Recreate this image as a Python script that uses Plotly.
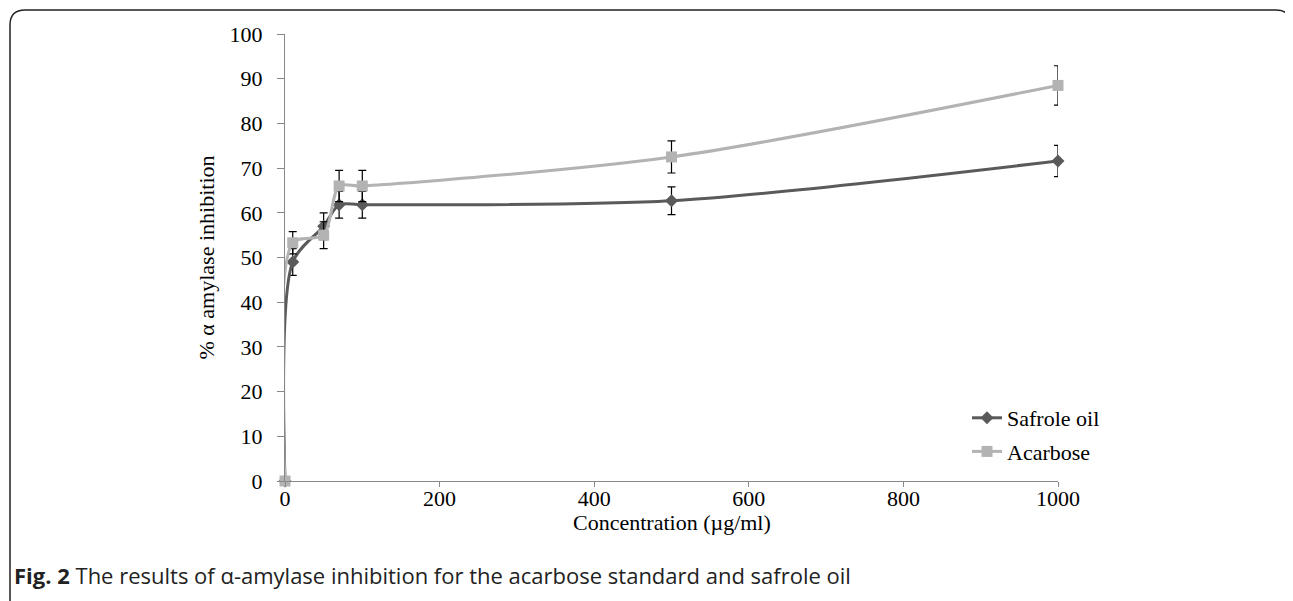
import plotly.graph_objects as go

# ---- data ----
concentration = [0, 10, 50, 70, 100, 500, 1000]
safrole = [0, 49.0, 57.0, 61.8, 61.8, 62.7, 71.6]
safrole_err = [0, 3.0, 3.0, 3.0, 3.0, 3.1, 3.5]
acarbose = [0, 53.3, 55.0, 66.0, 66.0, 72.5, 88.5]
acarbose_err = [0, 2.5, 3.0, 3.5, 3.5, 3.6, 4.4]
x_ticks = [0, 200, 400, 600, 800, 1000]
y_ticks = [0, 10, 20, 30, 40, 50, 60, 70, 80, 90, 100]

OFF = 8  # page body margin
W, H = 1293 - OFF, 601 - OFF
ML, MT = 285 - OFF, 34 - OFF
MR = W - (1058 - OFF)
MB = H - (481 - OFF)
PW, PH = W - ML - MR, H - MT - MB

def px(sx):
    return (sx - OFF - ML) / PW

def py(sy):
    return (H - MB - (sy - OFF)) / PH

serif = "Liberation Serif, Times New Roman, serif"
FS = 22

fig = go.Figure()
fig.add_trace(go.Scatter(
    x=concentration, y=safrole, name="Safrole oil", mode="lines+markers",
    legendgroup="s",
    line=dict(color="#5a5a5a", width=3, shape="spline", smoothing=0.8),
    marker=dict(symbol="diamond", size=10, color="#5a5a5a"),
    error_y=dict(type="data", array=safrole_err, color="#000000", thickness=1.2, width=4),
    cliponaxis=False,
))
fig.add_trace(go.Scatter(
    x=concentration, y=acarbose, name="Acarbose", mode="lines+markers",
    legendgroup="a",
    line=dict(color="#b3b3b3", width=3, shape="spline", smoothing=0.8),
    marker=dict(symbol="square", size=11, color="#b3b3b3"),
    error_y=dict(type="data", array=acarbose_err, color="#000000", thickness=1.2, width=4),
    cliponaxis=False,
))

# border: left and top lines with rounded corners
r = 15
path = (f"M {px(10)},{py(610)} L {px(10)},{py(10 + r)} "
        f"Q {px(10)},{py(10)} {px(10 + r)},{py(10)} "
        f"L {px(1291 - r)},{py(10)} Q {px(1291)},{py(10)} {px(1291)},{py(10 + r)}")
shapes = [dict(type="path", xref="paper", yref="paper", path=path,
               line=dict(color="#222222", width=1.5))]

fig.update_layout(
    width=W, height=H,
    margin=dict(l=ML, r=MR, t=MT, b=MB),
    paper_bgcolor="white", plot_bgcolor="white",
    font=dict(family=serif, size=FS, color="#000000"),
    showlegend=True,
    legend=dict(x=px(967), y=py(397), xanchor="left", yanchor="top",
                bgcolor="rgba(0,0,0,0)", font=dict(family=serif, size=FS),
                tracegroupgap=2, borderwidth=0),
    xaxis=dict(range=[0, 1000], tickvals=x_ticks, showgrid=False, zeroline=False,
               showline=True, linecolor="#888888", linewidth=1.2,
               ticks="outside", ticklen=5, tickcolor="#888888",
               ticklabelstandoff=-8,
               tickfont=dict(family=serif, size=FS)),
    yaxis=dict(range=[0, 100], tickvals=y_ticks, showgrid=False, zeroline=False,
               showline=True, linecolor="#888888", linewidth=1.2,
               ticks="outside", ticklen=7, tickcolor="#888888",
               ticklabelstandoff=10,
               tickfont=dict(family=serif, size=FS),
               title=dict(text="% α amylase inhibition", font=dict(family=serif, size=FS), standoff=8)),
    shapes=shapes,
    annotations=[
        dict(xref="paper", yref="paper", x=0.5, y=py(522), xanchor="center", yanchor="middle",
             showarrow=False, text="Concentration (µg/ml)",
             font=dict(family=serif, size=FS, color="#000000")),
        dict(xref="paper", yref="paper", x=px(12), y=py(575), xanchor="left", yanchor="middle",
             showarrow=False,
             text="<b>Fig. 2</b> The results of α-amylase inhibition for the acarbose standard and safrole oil",
             font=dict(family="Open Sans, sans-serif", size=22, color="#222222")),
    ],
)

fig.write_html("out.html")
